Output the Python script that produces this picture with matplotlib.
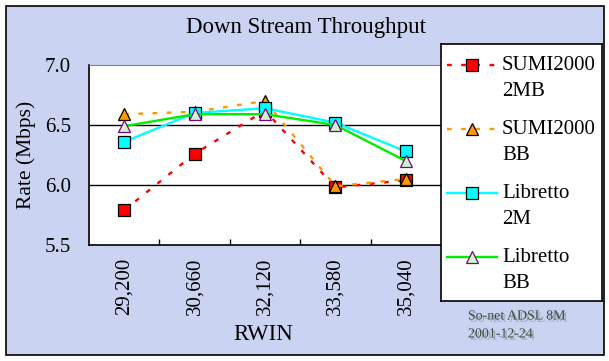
import numpy as np
import matplotlib
matplotlib.use('Agg')
import matplotlib.pyplot as plt
from matplotlib.patches import Rectangle
import matplotlib.patheffects as pe

plt.rcParams['font.family'] = ['Liberation Serif', 'DejaVu Serif']

rwin = ['29,200', '30,660', '32,120', '33,580', '35,040']
sumi_2mb = [5.79, 6.26, 6.62, 5.98, 6.04]
sumi_bb = [6.59, 6.61, 6.70, 5.99, 6.05]
libretto_2m = [6.36, 6.60, 6.64, 6.52, 6.28]
libretto_bb = [6.49, 6.59, 6.59, 6.50, 6.20]
series_names = ['SUMI2000\n2MB', 'SUMI2000\nBB', 'Libretto\n2M', 'Libretto\nBB']
yticks = [5.5, 6.0, 6.5, 7.0]

styles = [
    dict(color='#ff0000', ls=(0, (2, 4)), marker='s', mfc='#ff0000', mec='#000000'),
    dict(color='#ff9900', ls=(0, (2, 4)), marker='^', mfc='#ff9900', mec='#000000'),
    dict(color='#00ffff', ls='-', marker='s', mfc='#00ffff', mec='#000000'),
    dict(color='#00ee00', ls='-', marker='^', mfc='#ccf5cc', mec='#800080'),
]
all_series = [sumi_2mb, sumi_bb, libretto_2m, libretto_bb]

W, H = 609, 361
fig = plt.figure(figsize=(W / 100, H / 100), dpi=100)
fig.patch.set_facecolor('white')
fig.patches.append(Rectangle((6 / W, 1 - 355 / H), 598 / W, 349 / H,
                             transform=fig.transFigure, facecolor='#cad3f1',
                             edgecolor='black', lw=1.2, zorder=-5))

ax = fig.add_axes([89 / W, 1 - 245 / H, 352 / W, 180 / H])
ax.set_facecolor('white')
x = np.arange(len(rwin))
for ys, st in zip(all_series, styles):
    ax.plot(x, ys, color=st['color'], ls=st['ls'], lw=1.7, marker=st['marker'],
            ms=8.8, mfc=st['mfc'], mec=st['mec'], mew=0.9, zorder=3)

ax.set_xlim(-0.5, len(rwin) - 0.5)
ax.set_ylim(5.5, 7.0)
ax.set_yticks(yticks)
ax.set_yticklabels(['%.1f' % v for v in yticks], fontsize=15)
ax.set_xticks(x)
ax.set_xticklabels(rwin, rotation=90, fontsize=15, va='top')
ax.set_xticks(x[:-1] + 0.5, minor=True)
ax.tick_params(axis='y', length=0, pad=13)
ax.tick_params(axis='x', which='major', length=0, pad=9)
ax.tick_params(axis='x', which='minor', direction='in', length=4, width=1)
for v in [6.0, 6.5]:
    ax.axhline(v, color='black', lw=1, zorder=1)
for s in ['top', 'right']:
    ax.spines[s].set_color('#808080')
for s in ['left', 'bottom']:
    ax.spines[s].set_color('black')
    ax.spines[s].set_linewidth(1.2)

fig.text(0.502, 1 - 27 / H, 'Down Stream Throughput', ha='center', va='center', fontsize=16.5)
fig.text(263 / W, 1 - 335 / H, 'RWIN', ha='center', va='center', fontsize=16.5)
fig.text(26 / W, 1 - 155 / H, 'Rate (Mbps)', ha='center', va='center', rotation=90, fontsize=15.5)

shadow = [pe.withSimplePatchShadow(offset=(1.5, -1.5), shadow_rgbFace='#555555', alpha=0.4)]
fig.text(468 / W, 1 - 316 / H, 'So-net ADSL 8M', ha='left', va='center', fontsize=10,
         color='#3d4a3d', path_effects=shadow)
fig.text(468 / W, 1 - 334 / H, '2001-12-24', ha='left', va='center', fontsize=10,
         color='#3d4a3d', path_effects=shadow)

# legend drawn by hand so the key sits on the first label line
lg = fig.add_axes([441 / W, 1 - 301 / H, 161 / W, 257 / H])
lg.set_xlim(0, 161)
lg.set_ylim(257, 0)
lg.set_xticks([])
lg.set_yticks([])
lg.set_facecolor('white')
for s in lg.spines.values():
    s.set_color('black')
    s.set_linewidth(1.2)
for i, (name, st) in enumerate(zip(series_names, styles)):
    yy = 21 + 64 * i
    lg.plot([6, 56], [yy, yy], color=st['color'], ls=st['ls'], lw=1.7)
    lg.plot([31], [yy], marker=st['marker'], ms=8.8, mfc=st['mfc'], mec=st['mec'], mew=0.9, ls='')
    for j, line in enumerate(name.split('\n')):
        lg.text(61, yy + 27 * j, line, ha='left', va='center', fontsize=15)

fig.savefig('out.png', dpi=100)
